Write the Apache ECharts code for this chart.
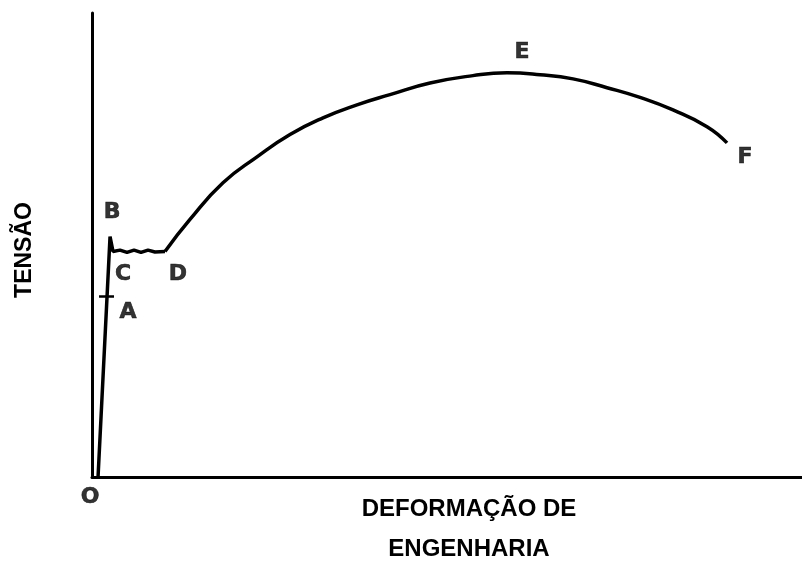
<!DOCTYPE html>
<html>
<head>
<meta charset="utf-8">
<script src="https://cdn.jsdelivr.net/npm/echarts@6/dist/echarts.min.js"></script>
<style>
html,body{margin:0;padding:0;background:#fff;}
#chart{width:802px;height:561px;}
</style>
</head>
<body>
<div id="chart"></div>
<script>
// Strain (x) and stress (y) in arbitrary units, 0-100
const elasticStrain = [0.85, 2.54, 2.96, 3.94, 4.93, 5.92, 6.90, 7.89, 8.87, 10.28];
const elasticStress = [0, 51.8, 48.6, 48.9, 48.4, 48.9, 48.4, 48.9, 48.5, 48.6];
const hardeningStrain = [10.28, 13.80, 18.45, 23.24, 27.89, 32.54, 37.32, 41.97, 47.61, 53.66, 58.45, 63.10, 67.75, 72.54, 77.18, 81.83, 86.62, 89.44];
const hardeningStress = [48.6, 55.5, 63.4, 69.0, 73.8, 77.4, 80.2, 82.4, 84.9, 86.5, 87.1, 86.7, 85.8, 83.9, 81.8, 79.1, 75.5, 72.0];
const tickAStrain = [0.99, 3.1];
const tickAStress = [38.9, 38.9];
const pointNames = ['O', 'A', 'B', 'C', 'D', 'E', 'F'];
const pointStrain = [-0.28, 5.07, 2.82, 4.37, 12.11, 60.56, 91.97];
const pointStress = [-4.3, 35.5, 57.0, 43.7, 43.7, 91.6, 69.0];
const yTitle = 'TENSÃO';
const xTitle = 'DEFORMAÇÃO DE\nENGENHARIA';

const zip = (a, b) => a.map((v, i) => [v, b[i]]);

const chart = echarts.init(document.getElementById('chart'));
chart.setOption({
  animation: false,
  backgroundColor: '#ffffff',
  grid: { left: 92, right: 0, top: 13, bottom: 84, containLabel: false, outerBoundsMode: 'none' },
  xAxis: {
    type: 'value', min: 0, max: 100,
    axisLine: { show: true, onZero: false, lineStyle: { color: '#000', width: 3 } },
    axisTick: { show: false }, axisLabel: { show: false }, splitLine: { show: false },
    name: xTitle, nameLocation: 'middle', nameGap: 12,
    nameTextStyle: { fontFamily: 'Liberation Sans', fontWeight: 'bold', fontSize: 24, color: '#000', lineHeight: 40, padding: [0, 0, 0, 44] }
  },
  yAxis: {
    type: 'value', min: 0, max: 100,
    axisLine: { show: true, onZero: false, lineStyle: { color: '#000', width: 3 } },
    axisTick: { show: false }, axisLabel: { show: false }, splitLine: { show: false },
    name: yTitle, nameLocation: 'middle', nameGap: 56, nameRotate: 90,
    nameTextStyle: { fontFamily: 'Liberation Sans', fontWeight: 'bold', fontSize: 23, color: '#000', padding: [0, 10, 0, 0] }
  },
  series: [
    {
      type: 'line', data: zip(elasticStrain, elasticStress), symbol: 'none',
      lineStyle: { color: '#000', width: 3.5 }, smooth: false
    },
    {
      type: 'line', data: zip(hardeningStrain, hardeningStress), symbol: 'none',
      lineStyle: { color: '#000', width: 3.5 }, smooth: 0.5
    },
    {
      type: 'line', data: zip(tickAStrain, tickAStress), symbol: 'none',
      lineStyle: { color: '#000', width: 2.5 }
    },
    {
      type: 'scatter', clip: false, symbolSize: 0,
      data: pointNames.map((n, i) => ({ name: n, value: [pointStrain[i], pointStress[i]] })),
      label: {
        show: true, position: 'inside', formatter: '{b}',
        fontFamily: 'DejaVu Sans', fontWeight: 'bold', fontSize: 22, color: '#000',
        textBorderColor: '#000', textBorderWidth: 0.6
      }
    }
  ]
});
</script>
</body>
</html>
